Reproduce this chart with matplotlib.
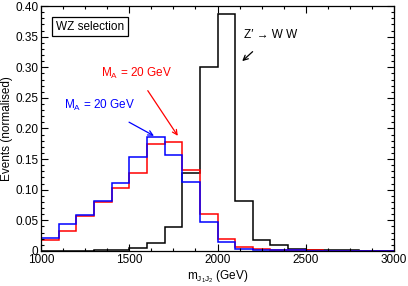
import numpy as np
import matplotlib
matplotlib.use('Agg')
import matplotlib.pyplot as plt
from matplotlib.ticker import MultipleLocator

plt.rcParams['font.family'] = ['Liberation Sans', 'DejaVu Sans']

# binning: 100 GeV bins from 1000 to 3000
edges = np.arange(1000, 3001, 100)

# normalised event fractions
zprime_ww = [0, 0, 0, 0.001, 0.002, 0.005, 0.013, 0.039, 0.128, 0.301,
             0.387, 0.081, 0.018, 0.009, 0.004, 0.002, 0.001, 0.001, 0.0005, 0]
red_ma20 = [0.018, 0.032, 0.057, 0.080, 0.103, 0.128, 0.175, 0.178, 0.133, 0.060,
            0.020, 0.006, 0.003, 0.002, 0.001, 0.001, 0.0005, 0.0005, 0, 0]
blue_ma20 = [0.022, 0.044, 0.059, 0.082, 0.111, 0.153, 0.186, 0.156, 0.112, 0.048,
             0.015, 0.004, 0.002, 0.001, 0.001, 0.0005, 0.0005, 0.0005, 0, 0]

fig = plt.figure(figsize=(4.08, 2.86), dpi=100)
ax = fig.add_axes([0.1005, 0.1224, 0.8652, 0.8566])

ax.stairs(zprime_ww, edges, color='black', lw=1.1)
ax.stairs(red_ma20, edges, color='#ff0000', lw=1.1)
ax.stairs(blue_ma20, edges, color='#0000ff', lw=1.1)

ax.set_xlim(1000, 3000)
ax.set_ylim(0, 0.40)
ax.xaxis.set_major_locator(MultipleLocator(500))
ax.xaxis.set_minor_locator(MultipleLocator(125))
ax.yaxis.set_major_locator(MultipleLocator(0.05))
ax.yaxis.set_minor_locator(MultipleLocator(0.01))
ax.tick_params(which='both', direction='in', top=True, right=True, labelsize=8.5, width=0.8)
ax.tick_params(which='major', length=5)
ax.tick_params(which='minor', length=2.5)
ax.tick_params(axis='y', pad=2)
ax.tick_params(axis='x', pad=2)
ax.set_yticks(np.arange(0, 0.401, 0.05))
ax.set_yticklabels(['0'] + ['%.2f' % v for v in np.arange(0.05, 0.401, 0.05)])
for s in ax.spines.values():
    s.set_linewidth(0.9)

ax.set_xlabel('m$_{\\mathregular{J_1J_2}}$ (GeV)', fontsize=8.5, labelpad=2)
ax.set_ylabel('Events (normalised)', fontsize=8.5)
ax.yaxis.set_label_coords(-0.078, 0.5)

ax.text(0.139, 0.916, 'WZ selection', transform=ax.transAxes, fontsize=8.5,
        ha='center', va='center',
        bbox=dict(boxstyle='square,pad=0.3', fc='white', ec='black', lw=0.9))

ax.annotate('M$_\\mathregular{A}$ = 20 GeV', xy=(1775, 0.188), xytext=(1540, 0.290),
            color='#ff0000', fontsize=8.5, ha='center', va='center',
            arrowprops=dict(arrowstyle='->', color='#ff0000', lw=0.9, shrinkA=6, shrinkB=0))
ax.annotate('M$_\\mathregular{A}$ = 20 GeV', xy=(1640, 0.188), xytext=(1330, 0.237),
            color='#0000ff', fontsize=8.5, ha='center', va='center',
            arrowprops=dict(arrowstyle='->', color='#0000ff', lw=0.9, shrinkA=9, shrinkB=0))
ax.annotate('Z\u2032 \u2192 W W', xy=(2140, 0.310), xytext=(2300, 0.352),
            color='black', fontsize=8.5, ha='center', va='center',
            arrowprops=dict(arrowstyle='->', color='black', lw=0.9, shrinkA=8, shrinkB=0))

fig.savefig('out.png', dpi=100)
